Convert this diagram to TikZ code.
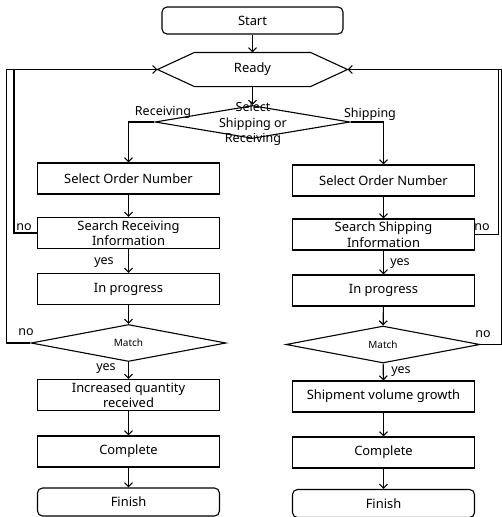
\documentclass[tikz,border=0pt]{standalone}
\usepackage{fontspec}
\setmainfont{Noto Sans}
\usetikzlibrary{shapes.geometric,arrows.meta,calc}

\begin{document}
\begin{tikzpicture}[x=1pt,y=-1pt,line width=1.1pt,>={Straight Barb[length=4pt,width=8pt]},
box/.style={draw,align=center,inner sep=1pt,minimum width=182pt,minimum height=31pt,font=\fontsize{12.9}{15.5}\selectfont},
term/.style={box,rounded corners=5pt,minimum height=28pt},
dec/.style={draw,diamond,inner sep=0pt,minimum width=195pt,minimum height=36pt,font=\fontsize{10}{12}\selectfont},
lbl/.style={inner sep=1pt,font=\fontsize{12.5}{15.5}\selectfont}]
\useasboundingbox (0,0) rectangle (502,517);
% top part
\node[term,minimum width=181pt,minimum height=27pt] (start) at (252.5,20.5) {Start};
\node[box,draw=none,minimum width=189pt,minimum height=33pt] (ready) at (252.5,69.5) {Ready};
\draw (ready.west) -- ($(ready.north west)+(37,0)$) -- ($(ready.north east)+(-37,0)$) -- (ready.east)
  -- ($(ready.south east)+(-37,0)$) -- ($(ready.south west)+(37,0)$) -- cycle;
\node[dec,minimum height=33pt] (sel) at (252.5,122) {};
\node[lbl,align=center] (seltxt) at (253,124) {Select\\Shipping or\\Receiving};
\node[lbl] (recv) at (163,112) {Receiving};
\node[lbl] (ship) at (370,114) {Shipping};
% receiving column
\node[box] (ro1) at (128.5,178.5) {Select Order Number};
\node[box] (ro2) at (128.5,233) {Search Receiving\\Information};
\node[box] (ro3) at (128.5,289) {In progress};
\node[dec] (rm) at (128.5,343) {Match};
\node[box] (ro4) at (128.5,395) {Increased quantity\\received};
\node[box] (ro5) at (128.5,451.5) {Complete};
\node[term] (rf) at (128.5,502) {Finish};
% shipping column
\node[box] (so1) at (383.5,180.5) {Select Order Number};
\node[box] (so2) at (383.5,234.5) {Search Shipping\\Information};
\node[box] (so3) at (383.5,290.5) {In progress};
\node[dec,minimum width=194pt] (sm) at (383,344.5) {Match};
\node[box] (so4) at (383.5,396.5) {Shipment volume growth};
\node[box] (so5) at (383.5,452.5) {Complete};
\node[term] (sf) at (383.5,503.5) {Finish};
% yes / no
\node[lbl] (ry1) at (104,263) {yes};
\node[lbl] (ry2) at (106,369) {yes};
\node[lbl] (sy1) at (400,264) {yes};
\node[lbl] (sy2) at (401,372) {yes};
\node[lbl] (rn1) at (24,227) {no};
\node[lbl] (rn2) at (26,332) {no};
\node[lbl] (sn1) at (482,227) {no};
\node[lbl] (sn2) at (483,334) {no};
% connectors
\draw[->] (start) -- (ready); \draw[->] (ready) -- (sel);
\draw[->] (sel.west) -| (ro1); \draw[->] (sel.east) -| (so1);
\foreach \a/\b in {ro1/ro2,ro2/ro3,ro3/rm,rm/ro4,ro4/ro5,ro5/rf,so1/so2,so2/so3,so3/sm,sm/so4,so4/so5,so5/sf}
  \draw[->] (\a) -- (\b);
\draw[->] (rm.west) -- ++(-24,0) |- (ready.west);
\draw (ro2.west) -- ++(-23,0) |- (ready.west);
\draw[->] (sm.east) -- ++(20.5,0) |- (ready.east);
\draw (so2.east) -- ++(23,0) |- (ready.east);
\end{tikzpicture}
\end{document}
